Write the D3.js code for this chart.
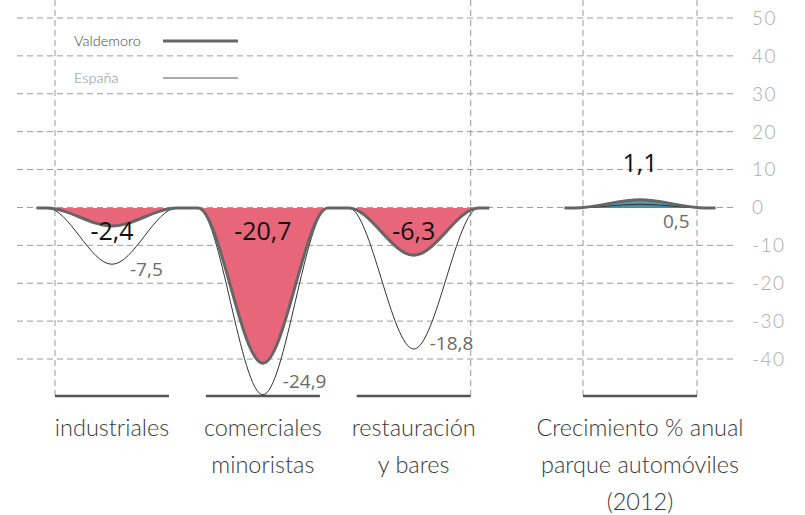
<!DOCTYPE html>
<html><head><meta charset="utf-8">
<script src="https://cdn.jsdelivr.net/npm/d3@7"></script>
<style>body{margin:0;background:#fff} svg{display:block}</style>
</head><body><svg id="c" width="805" height="515"></svg>
<script>
const categories = ["industriales", "comerciales minoristas", "restauración y bares", "Crecimiento % anual parque automóviles (2012)"];
const categoryLines = [["industriales"], ["comerciales", "minoristas"], ["restauración", "y bares"], ["Crecimiento % anual", "parque automóviles", "(2012)"]];
const valdemoro = [-2.4, -20.7, -6.3, 1.1];
const espana = [-7.5, -24.9, -18.8, 0.5];
const valdemoroLabels = ["-2,4", "-20,7", "-6,3", "1,1"];
const espanaLabels = ["-7,5", "-24,9", "-18,8", "0,5"];
const axisTicks = [50, 40, 30, 20, 10, 0, -10, -20, -30, -40];
const axisTickLabels = ["50", "40", "30", "20", "10", "0", "-10", "-20", "-30", "-40"];
const seriesNames = ["Valdemoro", "España"];

// layout (not data)
const slots = [0, 2, 4, 7];
const lightFont = "Lato, 'Open Sans', sans-serif";
const numFont = "'Open Sans', 'Noto Sans', sans-serif";

const svg = d3.select("#c");
const x = d3.scaleLinear().domain([0, 7]).range([112, 640]);
const yv = d3.scaleLinear().domain([-25, 0]).range([395.5, 208]);
const ya = d3.scaleLinear().domain([-40, 50]).range([359, 18]);
const half = 75.5, inner = 65, barHalf = 57;

// horizontal grid
const grid = svg.append("g");
axisTicks.forEach((t, i) => {
  grid.append("line").attr("x1", 17).attr("x2", 735).attr("y1", ya(t)).attr("y2", ya(t))
    .attr("stroke", "#9a9a9a").attr("stroke-width", 1).attr("stroke-dasharray", "6,4");
  grid.append("text").attr("x", 752).attr("y", ya(t)).attr("dy", "0.36em")
    .attr("font-family", lightFont).attr("font-weight", 300).attr("font-size", 19)
    .attr("letter-spacing", 1.5)
    .attr("fill", "#ababab").text(axisTickLabels[i]);
});

// vertical dashed lines
const vx = [x(slots[0]) - barHalf, x(slots[2]) + barHalf, x(slots[3]) - barHalf, x(slots[3]) + barHalf];
vx.forEach(v => {
  grid.append("line").attr("x1", v).attr("x2", v).attr("y1", 0).attr("y2", 396)
    .attr("stroke", "#9a9a9a").attr("stroke-width", 1).attr("stroke-dasharray", "6,4");
});

// baseline bars
slots.forEach(s => {
  svg.append("line").attr("x1", x(s) - barHalf).attr("x2", x(s) + barHalf).attr("y1", 396).attr("y2", 396)
    .attr("stroke", "#555").attr("stroke-width", 2.5);
});

function points(vals, idx) {
  const p = [];
  idx.forEach((k, j) => {
    const c = x(slots[k]);
    if (j === 0) p.push([c - half, 0]);
    p.push([c - inner, 0], [c, vals[k]], [c + inner, 0], [c + half, 0]);
  });
  return p;
}
const line = d3.line().x(d => d[0]).y(d => yv(d[1])).curve(d3.curveMonotoneX);
const area = d3.area().x(d => d[0]).y0(yv(0)).y1(d => yv(d[1])).curve(d3.curveMonotoneX);

const groups = [{idx: [0, 1, 2], fill: "#e8667a"}, {idx: [3], fill: "#4f9cb1"}];
groups.forEach(g => {
  const pv = points(valdemoro, g.idx), pe = points(espana, g.idx);
  svg.append("path").attr("d", area(pv)).attr("fill", g.fill);
  if (g.idx[0] === 3) {
    svg.append("path").attr("d", area(pe)).attr("fill", "#3d8aa0").attr("opacity", 0.6);
  }
  svg.append("path").attr("d", line(pe)).attr("fill", "none").attr("stroke", "#333").attr("stroke-width", 1);
  svg.append("path").attr("d", line(pv)).attr("fill", "none").attr("stroke", "#666").attr("stroke-width", 3);
});

// value labels
const espDx = [18, 20, 16, 23];
const espDy = [12, -7, 1, 0];
valdemoro.forEach((v, i) => {
  const s = slots[i];
  svg.append("text").attr("x", x(s)).attr("y", v < 0 ? yv(0) + 32 : yv(0) - 36)
    .attr("text-anchor", "middle").attr("font-family", numFont).attr("font-size", 25)
    .attr("fill", "#111").text(valdemoroLabels[i]);
  const ev = espana[i];
  svg.append("text").attr("x", x(s) + espDx[i]).attr("y", ev < 0 ? yv(ev) + espDy[i] : yv(0) + 20)
    .attr("font-family", numFont).attr("font-size", 19)
    .attr("fill", "#6a6a6a").text(espanaLabels[i]);
});

// category labels
categoryLines.forEach((lines, i) => {
  lines.forEach((t, j) => {
    svg.append("text").attr("x", x(slots[i])).attr("y", 436 + j * 37)
      .attr("text-anchor", "middle").attr("font-family", lightFont).attr("font-weight", 300)
      .attr("font-size", 23.5).attr("fill", "#3a3a3a").text(t);
  });
});

// legend
const legY = [41, 78];
seriesNames.forEach((n, i) => {
  svg.append("text").attr("x", 74).attr("y", legY[i] + 5)
    .attr("font-family", lightFont).attr("font-weight", 300).attr("font-size", 14.5)
    .attr("fill", i === 0 ? "#444" : "#8a8a8a").text(n);
  svg.append("line").attr("x1", 163).attr("x2", 238).attr("y1", legY[i]).attr("y2", legY[i])
    .attr("stroke", i === 0 ? "#666" : "#555").attr("stroke-width", i === 0 ? 3 : 1);
});
</script>
</body></html>
